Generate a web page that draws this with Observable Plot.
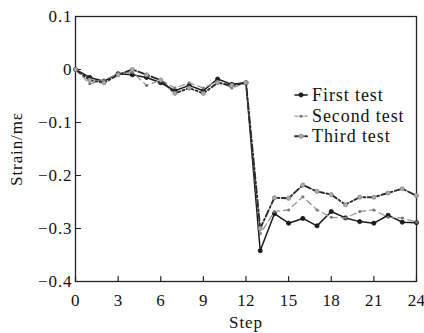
<!DOCTYPE html>
<html><head><meta charset="utf-8">
<script src="https://cdn.jsdelivr.net/npm/d3@7"></script>
<script src="https://cdn.jsdelivr.net/npm/@observablehq/plot@0.6"></script>
<style>body{margin:0;background:#fff}</style>
</head><body><div id="chart"></div>
<script>
const steps = [0,1,2,3,4,5,6,7,8,9,10,11,12,13,14,15,16,17,18,19,20,21,22,23,24];
const firstTest  = [0,-0.015,-0.022,-0.008,-0.010,-0.015,-0.025,-0.040,-0.030,-0.040,-0.018,-0.028,-0.025,-0.342,-0.272,-0.290,-0.281,-0.295,-0.268,-0.280,-0.287,-0.290,-0.275,-0.288,-0.289];
const secondTest = [0,-0.027,-0.020,-0.008,-0.005,-0.030,-0.020,-0.035,-0.025,-0.035,-0.022,-0.035,-0.025,-0.310,-0.268,-0.265,-0.240,-0.265,-0.279,-0.280,-0.268,-0.265,-0.279,-0.280,-0.288];
const thirdTest  = [0,-0.020,-0.025,-0.010,0.000,-0.010,-0.020,-0.045,-0.035,-0.045,-0.025,-0.030,-0.025,-0.300,-0.242,-0.243,-0.218,-0.230,-0.236,-0.255,-0.241,-0.241,-0.233,-0.225,-0.238];
const seriesNames = ["First test","Second test","Third test"];
const xTicks = [0,3,6,9,12,15,18,21,24];
const yTicks = [0.1,0,-0.1,-0.2,-0.3,-0.4];

const allValues = [firstTest, secondTest, thirdTest];
const data = allValues.flatMap((vals, si) => vals.map((v, i) => ({step: steps[i], value: v, series: seriesNames[si]})));

const styles = {
  "First test":  {stroke:"#1a1a1a", dash:null, width:1.5, dotFill:"#1a1a1a", dotStroke:"#1a1a1a", r:2.1},
  "Second test": {stroke:"#959595", dash:"6,4", width:1.3, dotFill:"#777", dotStroke:"none", r:1.5},
  "Third test":  {stroke:"#2a2a2a", dash:"7,2.5,2,2.5", width:1.9, dotFill:"#aaa", dotStroke:"#888", r:2.1}
};

// legend layout (in data units)
const legendRows = [-0.048,-0.088,-0.126];
const legendX = [15.45, 16.3, 16.65];
const legend = seriesNames.map((n, i) => ({name: n, y: legendRows[i]}));

const tick = {draw(ctx, l){ ctx.moveTo(0,0); ctx.lineTo(0,-l); }};

const marks = [Plot.frame({stroke:"#222", strokeWidth:1.3})];
marks.push(
  Plot.axisX({ticks: xTicks, tickSize:0, tickPadding:12, fontSize:17, label:"Step", labelAnchor:"center", labelOffset:46, labelArrow:"none"}),
  Plot.axisY({ticks: yTicks, tickSize:0, tickPadding:3, fontSize:17, tickFormat: d => d === 0 ? "0" : d3.format(".1f")(d), label:"Strain/mε", labelAnchor:"center", labelOffset:66, labelArrow:"none"}),
  Plot.vector(xTicks, {x: d => d, y: yTicks[yTicks.length-1], length:5, rotate:0, anchor:"start", shape: tick, stroke:"#222", strokeWidth:1.2}),
  Plot.vector(yTicks, {x: steps[0], y: d => d, length:5, rotate:90, anchor:"start", shape: tick, stroke:"#222", strokeWidth:1.2})
);
for (const n of seriesNames) {
  const s = styles[n];
  const d = data.filter(e => e.series === n);
  marks.push(Plot.line(d, {x:"step", y:"value", stroke:s.stroke, strokeWidth:s.width, strokeDasharray:s.dash}));
  marks.push(Plot.dot(d, {x:"step", y:"value", r:s.r, fill:s.dotFill, stroke:s.dotStroke, strokeWidth:0.8}));
}
for (const item of legend) {
  const s = styles[item.name];
  const seg = [{x: legendX[0], y: item.y}, {x: legendX[1], y: item.y}];
  marks.push(Plot.line(seg, {x:"x", y:"y", stroke:s.stroke, strokeWidth:s.width, strokeDasharray: s.dash ? "3,2" : null}));
  marks.push(Plot.dot([item], {x: (legendX[0]+legendX[1])/2, y:"y", r:s.r, fill:s.dotFill, stroke:s.dotStroke, strokeWidth:0.8}));
  marks.push(Plot.text([item], {x: legendX[2], y:"y", text:"name", textAnchor:"start", fill:"#111", fontSize:18}));
}

const chart = Plot.plot({
  width: 424, height: 333,
  marginLeft: 75, marginRight: 8, marginTop: 16, marginBottom: 52,
  style: {fontFamily: "'Liberation Serif', 'DejaVu Serif', serif", fontSize: "17px", letterSpacing: "0.9px", color: "#111", background: "#fff"},
  x: {domain: [0, 24]},
  y: {domain: [-0.4, 0.1]},
  marks
});
const xLabels = chart.querySelector('[aria-label="x-axis tick label"]');
if (xLabels) xLabels.style.letterSpacing = "0.3px";
document.getElementById("chart").appendChild(chart);
</script>
</body></html>
